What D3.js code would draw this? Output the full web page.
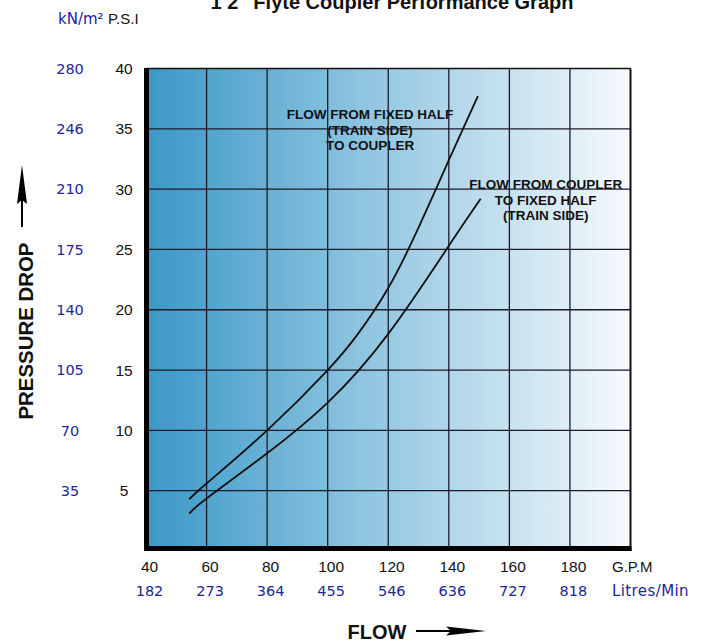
<!DOCTYPE html>
<html>
<head>
<meta charset="utf-8">
<style>
  body { margin: 0; background: #fff; }
  svg { display: block; font-family: "Liberation Sans", Arial, sans-serif; }
  .grid line { stroke: #1b1b2b; stroke-width: 1.3; }
  .curve { fill: none; stroke: #111; stroke-width: 1.8; }
  .blue { fill: #24249a; font-family: "DejaVu Sans", sans-serif; }
</style>
<title>Flyte Coupler Performance Graph</title>
</head>
<body>
<script src="https://cdn.jsdelivr.net/npm/d3@7"></script>
<script>

// flow in G.P.M, pressure drop in P.S.I
var flowFixedToCoupler  = [54.3, 60, 80, 100, 110, 120, 130, 140, 149.6];
var pressFixedToCoupler = [4.3, 5.6, 10.0, 15.0, 18.0, 21.8, 26.8, 32.4, 37.7];
var flowCouplerToFixed  = [54.3, 60, 80, 100, 120, 140, 150.5];
var pressCouplerToFixed = [3.1, 4.35, 8.1, 12.3, 18.0, 25.3, 29.2];

var gpmTicks     = [40, 60, 80, 100, 120, 140, 160, 180];
var litresLabels = ["182", "273", "364", "455", "546", "636", "727", "818"];
var psiTicks     = [5, 10, 15, 20, 25, 30, 35, 40];
var knLabels     = ["35", "70", "105", "140", "175", "210", "246", "280"];
var gridX        = [60, 80, 100, 120, 140, 160, 180];
var gridY        = [5, 10, 15, 20, 25, 30, 35];

var labelFixedToCoupler = ["FLOW FROM FIXED HALF", "(TRAIN SIDE)", "TO COUPLER"];
var labelCouplerToFixed = ["FLOW FROM COUPLER", "TO FIXED HALF", "(TRAIN SIDE)"];

var width = 703, height = 642;

var x = d3.scaleLinear().domain([40, 200]).range([146, 630.5]);
var y = d3.scaleLinear().domain([0, 40]).range([551, 68.5]);

var svg = d3.select("body").append("svg")
    .attr("width", width)
    .attr("height", height);

// background gradient
var grad = svg.append("defs").append("linearGradient")
    .attr("id", "bg")
    .attr("x1", "0%").attr("x2", "100%").attr("y1", "0%").attr("y2", "0%");
grad.append("stop").attr("offset", "0%").attr("stop-color", "#3a98c7");
grad.append("stop").attr("offset", "45%").attr("stop-color", "#8fc5e0");
grad.append("stop").attr("offset", "100%").attr("stop-color", "#f6fafd");

svg.append("rect")
    .attr("x", x(40)).attr("y", y(40))
    .attr("width", x(200) - x(40))
    .attr("height", y(0) - y(40))
    .attr("fill", "url(#bg)");

// curve labels (grid runs over them like in the print)
function addLabel(lines, gpm, top) {
  svg.append("g").selectAll("text")
    .data(lines)
    .enter().append("text")
    .attr("x", x(gpm))
    .attr("y", function(d, i) { return top + i * 15.5; })
    .attr("text-anchor", "middle")
    .style("font-size", "13.5px")
    .style("font-weight", "bold")
    .style("fill", "#111")
    .text(function(d) { return d; });
}
addLabel(labelFixedToCoupler, 114, 119);
addLabel(labelCouplerToFixed, 172, 189);

// grid
svg.append("g").attr("class", "grid")
  .selectAll("line").data(gridX).enter().append("line")
    .attr("x1", function(d) { return x(d); }).attr("x2", function(d) { return x(d); })
    .attr("y1", y(40)).attr("y2", y(0));
svg.append("g").attr("class", "grid")
  .selectAll("line").data(gridY).enter().append("line")
    .attr("y1", function(d) { return y(d); }).attr("y2", function(d) { return y(d); })
    .attr("x1", x(40)).attr("x2", x(200));

// frame: thin top/right, heavy left/bottom
svg.append("line").attr("x1", x(40)).attr("x2", x(200)).attr("y1", y(40)).attr("y2", y(40))
    .style("stroke", "#111").style("stroke-width", 1.5);
svg.append("line").attr("x1", x(200)).attr("x2", x(200)).attr("y1", y(40)).attr("y2", y(0))
    .style("stroke", "#111").style("stroke-width", 2);
svg.append("line").attr("x1", x(40) + 0.5).attr("x2", x(40) + 0.5).attr("y1", y(40) - 0.5).attr("y2", y(0))
    .style("stroke", "#000").style("stroke-width", 5);
svg.append("line").attr("x1", x(40) - 2).attr("x2", x(200) + 1).attr("y1", y(0) - 2.5).attr("y2", y(0) - 2.5)
    .style("stroke", "#000").style("stroke-width", 5);

// curves
var line = d3.line()
    .x(function(d) { return x(d[0]); })
    .y(function(d) { return y(d[1]); })
    .curve(d3.curveNatural);

svg.append("path").attr("class", "curve")
    .attr("d", line(d3.zip(flowFixedToCoupler, pressFixedToCoupler)));
svg.append("path").attr("class", "curve")
    .attr("d", line(d3.zip(flowCouplerToFixed, pressCouplerToFixed)));

// bottom axes (G.P.M and Litres/Min)
var gpmAxis = svg.append("g")
    .attr("transform", "translate(3,572)")
    .call(d3.axisBottom(x).tickValues(gpmTicks).tickSize(0).tickPadding(0));
var litAxis = svg.append("g")
    .attr("transform", "translate(3,596)")
    .call(d3.axisBottom(x).tickValues(gpmTicks).tickSize(0).tickPadding(0)
      .tickFormat(function(d, i) { return litresLabels[i]; }));

[gpmAxis, litAxis].forEach(function(g) {
  g.select(".domain").remove();
  g.selectAll("text").attr("y", 0).attr("dy", null);
});
gpmAxis.selectAll("text").style("font-size", "15.5px").style("fill", "#111")
    .style("font-family", "'Liberation Sans', Arial, sans-serif");
litAxis.selectAll("text").attr("class", "blue").style("font-size", "14.5px");

svg.append("text").attr("x", 612).attr("y", 572)
    .style("font-size", "15px").style("fill", "#111").text("G.P.M");
svg.append("text").attr("class", "blue").attr("x", 612).attr("y", 596)
    .style("font-size", "15px").style("letter-spacing", "0.4px").text("Litres/Min");

// left axes (P.S.I and kN/m2)
var psiAxis = svg.append("g")
    .attr("transform", "translate(124,0)")
    .call(d3.axisLeft(y).tickValues(psiTicks).tickSize(0).tickPadding(0));
var knAxis = svg.append("g")
    .attr("transform", "translate(70,0)")
    .call(d3.axisLeft(y).tickValues(psiTicks).tickSize(0).tickPadding(0)
      .tickFormat(function(d, i) { return knLabels[i]; }));

[psiAxis, knAxis].forEach(function(g) {
  g.select(".domain").remove();
  g.selectAll("text").attr("x", 0).attr("text-anchor", "middle");
});
psiAxis.selectAll("text").style("font-size", "15.5px").style("fill", "#111")
    .style("font-family", "'Liberation Sans', Arial, sans-serif");
knAxis.selectAll("text").attr("class", "blue").style("font-size", "14.5px");

var unitRow = svg.append("text").attr("y", 24);
unitRow.append("tspan").attr("class", "blue").attr("x", 58).style("font-size", "15px").text("kN/m²");
unitRow.append("tspan").attr("x", 108).style("font-size", "15px").style("fill", "#111").text("P.S.I");

// title (top is cut off in the original)
svg.append("text")
    .attr("x", 392).attr("y", 9)
    .attr("text-anchor", "middle")
    .style("font-size", "20px").style("font-weight", "bold").style("fill", "#111")
    .text("1 2\" Flyte Coupler Performance Graph");

// axis titles with arrows
svg.append("text")
    .attr("transform", "translate(33,331) rotate(-90)")
    .attr("text-anchor", "middle")
    .attr("textLength", 177).attr("lengthAdjust", "spacingAndGlyphs")
    .style("font-size", "21px").style("font-weight", "bold").style("fill", "#111")
    .text("PRESSURE DROP");
svg.append("line").attr("x1", 22).attr("x2", 22).attr("y1", 227).attr("y2", 200)
    .style("stroke", "#000").style("stroke-width", 2);
svg.append("polygon").attr("points", "22,165 17,204 22,200 27,204").style("fill", "#000");

svg.append("text")
    .attr("x", 377).attr("y", 639)
    .attr("text-anchor", "middle")
    .style("font-size", "20px").style("font-weight", "bold").style("fill", "#111")
    .text("FLOW");
svg.append("line").attr("x1", 416).attr("x2", 452).attr("y1", 631).attr("y2", 631)
    .style("stroke", "#000").style("stroke-width", 2);
svg.append("polygon").attr("points", "486,631 446,626.5 451,631 446,635.5").style("fill", "#000");

</script>
</body>
</html>
